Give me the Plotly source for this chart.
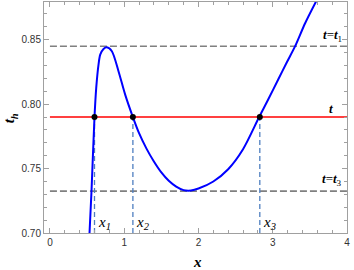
import plotly.graph_objects as go

# curve t_h(x)
curve_x = [0.533, 0.560, 0.600, 0.623, 0.654, 0.677, 0.721, 0.767, 0.834, 0.923, 1.013,
           1.117, 1.200, 1.300, 1.400, 1.500, 1.600, 1.700, 1.800, 1.900, 2.000, 2.200,
           2.400, 2.600, 2.817, 2.942, 3.077, 3.190, 3.302, 3.436, 3.594]
curve_y = [0.700, 0.733, 0.790, 0.8125, 0.8307, 0.8384, 0.8429, 0.8442, 0.8411, 0.8256, 0.8074,
           0.790, 0.7775, 0.7655, 0.7555, 0.7470, 0.7405, 0.7360, 0.7333, 0.7330, 0.7345, 0.7400,
           0.7495, 0.7650, 0.790, 0.8040, 0.8195, 0.8325, 0.8450, 0.8628, 0.8809]

t_value = 0.790
t1_value = 0.845
t3_value = 0.7325
roots_x = [0.600, 1.117, 2.826]
root_labels = ["x<sub>1</sub>", "x<sub>2</sub>", "x<sub>3</sub>"]
x_span = [0, 4]
x_ticks = [0, 1, 2, 3, 4]
y_ticks = [0.70, 0.75, 0.80, 0.85]

fig = go.Figure()

fig.add_trace(go.Scatter(x=x_span, y=[t1_value, t1_value], mode="lines",
                         line=dict(color="#808080", width=1.6, dash="7px,3px")))
fig.add_trace(go.Scatter(x=x_span, y=[t3_value, t3_value], mode="lines",
                         line=dict(color="#808080", width=1.6, dash="7px,3px")))
fig.add_trace(go.Scatter(x=x_span, y=[t_value, t_value], mode="lines",
                         line=dict(color="#ff0000", width=1.5)))
for rx in roots_x:
    fig.add_trace(go.Scatter(x=[rx, rx], y=[0.70, t_value], mode="lines",
                             line=dict(color="#4f7fc0", width=1.3, dash="5px,3px")))
fig.add_trace(go.Scatter(x=curve_x, y=curve_y, mode="lines",
                         line=dict(color="#0000ff", width=2, shape="spline", smoothing=0.8)))
fig.add_trace(go.Scatter(x=roots_x, y=[t_value] * 3, mode="markers",
                         marker=dict(color="black", size=6)))

serif = "Liberation Serif, Times New Roman, serif"
ann = []
for rx, lab in zip(roots_x, root_labels):
    ann.append(dict(x=rx + 0.02, y=0.7075, xref="x", yref="y", text="<i>" + lab + "</i>",
                    showarrow=False, xanchor="left", yanchor="middle",
                    font=dict(family=serif, size=15, color="black")))
ann.append(dict(x=3.96, y=0.8535, xref="x", yref="y",
                text="<b><i>t</i></b>=<b><i>t</i></b><sub>1</sub>", showarrow=False,
                xanchor="right", yanchor="middle", font=dict(family=serif, size=13, color="black")))
ann.append(dict(x=3.78, y=0.7965, xref="x", yref="y", text="<b><i>t</i></b>", showarrow=False,
                xanchor="center", yanchor="middle", font=dict(family=serif, size=13, color="black")))
ann.append(dict(x=3.96, y=0.7415, xref="x", yref="y",
                text="<b><i>t</i></b>=<b><i>t</i></b><sub>3</sub>", showarrow=False,
                xanchor="right", yanchor="middle", font=dict(family=serif, size=13, color="black")))
ann.append(dict(x=0.505, y=-0.124, xref="paper", yref="paper", text="<b><i>x</i></b>",
                showarrow=False, xanchor="center", yanchor="middle",
                font=dict(family=serif, size=15, color="black")))
ann.append(dict(x=-0.111, y=0.498, xref="paper", yref="paper", text="<b><i>t<sub>h</sub></i></b>",
                showarrow=False, xanchor="center", yanchor="middle", textangle=-90,
                font=dict(family=serif, size=15, color="black")))

axis_common = dict(showgrid=False, zeroline=False, showline=True, linecolor="#a0a0a0",
                   linewidth=1, mirror="ticks", ticks="inside", ticklen=5, tickcolor="#a0a0a0",
                   tickfont=dict(family="Liberation Sans, Arial, sans-serif", size=10, color="#333333"))

fig.update_layout(
    width=354, height=270,
    margin=dict(l=44, r=7, t=2, b=37),
    plot_bgcolor="white", paper_bgcolor="white",
    showlegend=False,
    annotations=ann,
    xaxis=dict(range=[-0.08, 4.0], tickvals=x_ticks, ticktext=[str(v) for v in x_ticks],
               minor=dict(ticks="inside", dtick=0.2, tick0=0, ticklen=3, tickcolor="#a0a0a0"),
               **axis_common),
    yaxis=dict(range=[0.70, 0.8793], tickvals=y_ticks, ticktext=["%.2f" % v for v in y_ticks],
               minor=dict(ticks="inside", dtick=0.01, tick0=0.70, ticklen=3, tickcolor="#a0a0a0"),
               **axis_common),
)

fig.write_html("out.html", config={"displayModeBar": False},
               post_script="document.body.style.margin='0';")
